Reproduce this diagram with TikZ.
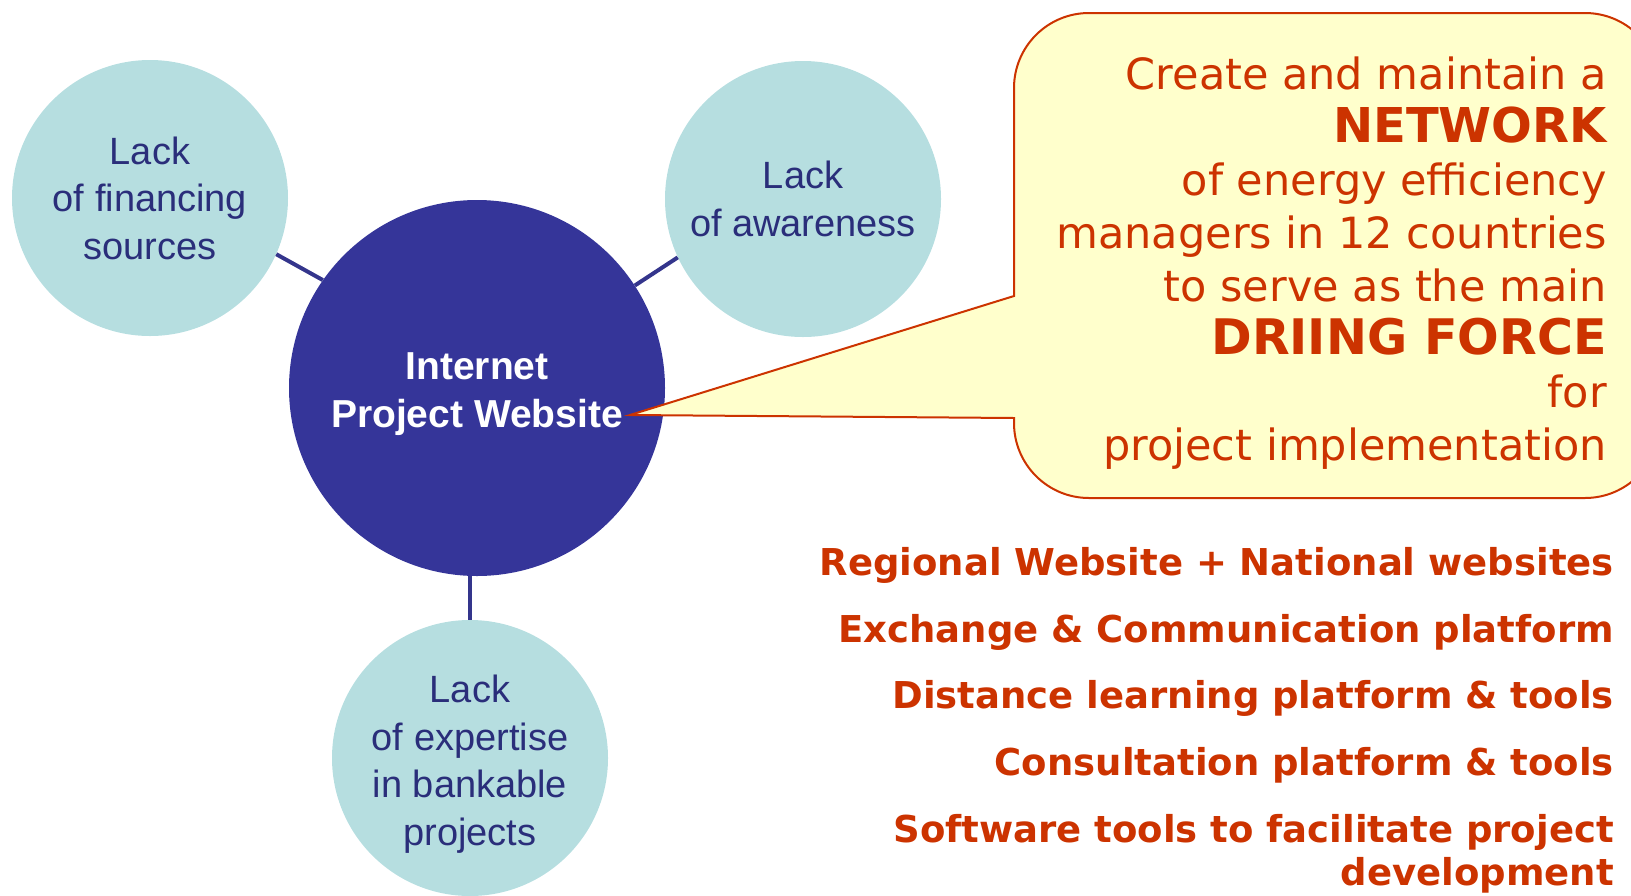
\documentclass[tikz,border=0pt]{standalone}
\usepackage{fontspec}
\setmainfont{Liberation Sans}
\newfontfamily\pitchfont{DejaVu Sans}
\usepackage{tikz}
\definecolor{hubblue}{RGB}{53,53,153}
\definecolor{lackcyan}{RGB}{182,222,224}
\definecolor{lacknavy}{RGB}{42,46,122}
\definecolor{linknavy}{RGB}{52,53,140}
\definecolor{pitchred}{RGB}{204,51,0}
\definecolor{pitchyellow}{RGB}{255,255,204}
\newcommand{\lackfont}{\fontsize{38}{47.5}\selectfont}

\begin{document}
\begin{tikzpicture}[x=1pt,y=-1pt,
	lack/.style={circle,fill=lackcyan,minimum size=276pt,inner sep=0pt,align=center,text=lacknavy,font=\lackfont},
	link/.style={draw=linknavy,line width=4pt},
	tool/.style={anchor=base east,inner sep=0pt,align=right,text=pitchred,font=\pitchfont\bfseries\fontsize{37}{43}\selectfont}]
	\useasboundingbox (0,0) rectangle (1631,895);
	\node[circle,fill=hubblue,minimum size=376pt,inner sep=0pt,align=center,text=white,font=\bfseries\fontsize{39}{48}\selectfont] (hub) at (477,388) {\rule{0pt}{39pt}Internet\\Project Website};
	\node[lack] (fin) at (150,198) {Lack\\of financing\\sources};
	\node[lack] (aware) at (803,199) {Lack\\of awareness};
	\node[lack] (expert) at (470,758) {\rule{0pt}{40pt}Lack\\of expertise\\in bankable\\projects};
	\path[link]
	(fin.-24) edge (hub.145)
	(aware.205) edge (hub.33)
	(expert.north) edge (expert.north |- hub.south);
	
	\coordinate (tip) at (630,415);
	\draw[draw=pitchred,fill=pitchyellow,line width=2pt] (1014,296) [rounded corners=75pt] -- (1014,13) -- (1660,13) -- (1660,498) -- (1014,498) [sharp corners] -- (1014,418) -- (tip) -- cycle;
	\node[anchor=north east,inner sep=0pt,align=right,text=pitchred,font=\pitchfont\fontsize{43}{53}\selectfont] (pitch) at (1607,57)
	{Create and maintain a\\ {\bfseries\fontsize{48}{53}\selectfont NETWORK}\\ of energy efficiency\\ managers in 12 countries\\ to serve as the main\\ {\bfseries\fontsize{49}{53}\selectfont DRIING FORCE}\\ for\\ project implementation};
	
	\node[tool] (t1) at (1614,575) {Regional Website + National websites};
	\node[tool] (t2) at (1614,642) {Exchange \& Communication platform};
	\node[tool] (t3) at (1614,708) {Distance learning platform \& tools};
	\node[tool] (t4) at (1614,775) {Consultation platform \& tools};
	\node[tool,anchor=north east] (t5) at (1614,814) {Software tools to facilitate project\\development};
\end{tikzpicture}
\end{document}
